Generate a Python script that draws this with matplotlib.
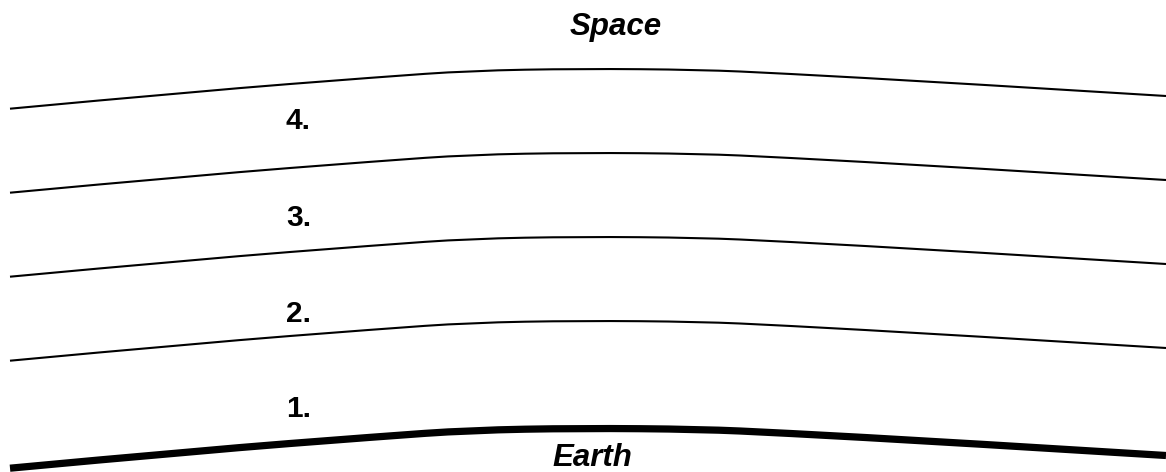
import numpy as np
import matplotlib
matplotlib.use("Agg")
import matplotlib.pyplot as plt
from matplotlib.path import Path
from matplotlib.patches import PathPatch

# shape of the top boundary (pixel coords, y down)
profile_x = [10, 200, 380, 470, 580, 700, 780, 950, 1166]
profile_y = [108.7, 91, 77, 70.7, 68.7, 69.7, 73.3, 82.7, 96.0]

# vertical shift of each boundary relative to the top one
layer_shift = [0, 84, 168, 252]
earth_shift = 359.5

layer_labels = ["4.", "3.", "2.", "1."]
label_x = 286
label_baseline = [129, 226, 322, 417]

plt.rcParams['font.family'] = ['Liberation Sans', 'DejaVu Sans']


def smooth_path(xs, ys):
    # quadratic bezier through midpoints, read points used as controls
    pts = list(zip(xs, ys))
    verts = [pts[0]]
    codes = [Path.MOVETO]
    for i in range(1, len(pts) - 1):
        mid = ((pts[i][0] + pts[i + 1][0]) / 2, (pts[i][1] + pts[i + 1][1]) / 2)
        if i == len(pts) - 2:
            mid = pts[-1]
        verts += [pts[i], mid]
        codes += [Path.CURVE3, Path.CURVE3]
    return Path(verts, codes)


fig = plt.figure(figsize=(11.66, 4.72), dpi=100)
ax = fig.add_axes([0, 0, 1, 1])
ax.set_xlim(0, 1166)
ax.set_ylim(472, 0)
ax.axis('off')

for s in layer_shift:
    p = smooth_path(profile_x, np.array(profile_y) + s)
    ax.add_patch(PathPatch(p, fill=False, lw=1.5, edgecolor='black', capstyle='butt'))

p = smooth_path(profile_x, np.array(profile_y) + earth_shift)
ax.add_patch(PathPatch(p, fill=False, lw=5.2, edgecolor='black', capstyle='butt'))

for lab, yb in zip(layer_labels, label_baseline):
    ax.text(label_x, yb, lab, fontsize=21.5, fontweight='bold', ha='left', va='baseline')

ax.text(616, 35, "Space", fontsize=22.5, fontweight='bold', fontstyle='italic',
        ha='center', va='baseline')
ax.text(592, 466.5, "Earth", fontsize=22.5, fontweight='bold', fontstyle='italic',
        ha='center', va='baseline')

fig.savefig("out.png", dpi=100)
